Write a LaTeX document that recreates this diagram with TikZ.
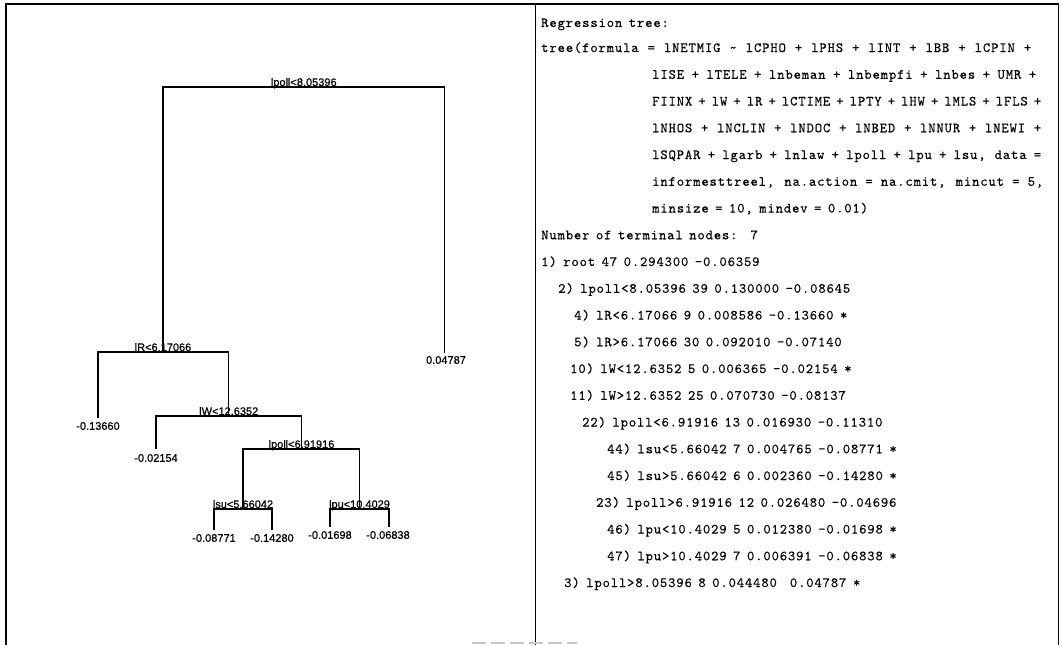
\documentclass[tikz,border=0pt]{standalone}
\usepackage{fontspec}
\setmainfont{Liberation Sans}
\newfontfamily\treef{Liberation Sans}[FakeBold=0.6]
\newfontfamily\monof{lmmono10-regular.otf}[LetterSpace=6, FakeBold=0.2]
\newcommand\jl[2]{\hbox to #1pt{\spaceskip=0.01pt plus 1fil\xspaceskip=0.01pt plus 1fil\relax #2}}
\newcommand\monotxt{\monof\fontsize{14}{16}\selectfont\spaceskip=6.5pt\relax}
\newcommand\treetxt{\treef\fontsize{11}{13}\selectfont}
\begin{document}
\begin{tikzpicture}[x=1pt, y=-1pt,
  frame/.style={line width=1.3pt, black},
  edge/.style={line width=1.2pt, line join=miter},
  split/.style={font=\treetxt, anchor=base, inner sep=0pt},
  leaf/.style={font=\treetxt, anchor=center, inner sep=0pt},
  mono/.style={font=\monotxt, anchor=base west, inner sep=0pt}]
\useasboundingbox (0,0) rectangle (1062,645);
\fill[white] (0,0) rectangle (1062,645);

% frame
\draw[frame] (6,645) -- (6,4) -- (1058.5,4) -- (1058.5,645);
\draw[frame] (535.5,4) -- (535.5,645);
\draw[gray!45, line width=2.5pt, dash pattern=on 14pt off 5pt] (472,643) -- (577,643);

% tree split points and leaf ends
\coordinate (root) at (303.75,87);
\coordinate (nR) at (163,352);
\coordinate (nW) at (228.75,416);
\coordinate (nP) at (301.5,449);
\coordinate (nSU) at (243,509);
\coordinate (nPU) at (359.5,509);
\coordinate (L3) at (444.5,353);
\coordinate (L4) at (98,418);
\coordinate (L10) at (156,449);
\coordinate (L44) at (214,530);
\coordinate (L45) at (272,530);
\coordinate (L46) at (330,527);
\coordinate (L47) at (389,527);

\draw[edge] (nR) |- (root) -| (L3);
\draw[edge] (L4) |- (nR) -| (nW);
\draw[edge] (L10) |- (nW) -| (nP);
\draw[edge] (nSU) |- (nP) -| (nPU);
\draw[edge, line width=1.6pt] (L44) |- (nSU) -| (L45);
\draw[edge, line width=1.6pt] (L46) |- (nPU) -| (L47);

\node[split] (sroot) at ([yshift=1pt]root) {lpoll<8.05396};
\node[split] (sR) at ([yshift=1pt]nR) {lR<6.17066};
\node[split] (sW) at ([yshift=1pt]nW) {lW<12.6352};
\node[split] (sP) at ([yshift=1pt]nP) {lpoll<6.91916};
\node[split] (sSU) at ([yshift=1pt]nSU) {lsu<5.66042};
\node[split] (sPU) at ([yshift=1pt]nPU) {lpu<10.4029};

\node[leaf] (v3) at (446,360) {0.04787};
\node[leaf] (v4) at (98,426) {-0.13660};
\node[leaf] (v10) at (156,458) {-0.02154};
\node[leaf] (v44) at (214,538) {-0.08771};
\node[leaf] (v45) at (272,538) {-0.14280};
\node[leaf] (v46) at (330,535) {-0.01698};
\node[leaf] (v47) at (388,535) {-0.06838};

% printed output
\node[mono] (t1) at (541,27) {Regression tree:};
\node[mono] (t2) at (541,52) {\jl{490}{tree(formula = lNETMIG \textasciitilde{} lCPHO + lPHS + lINT + lBB + lCPIN +}};
\node[mono] (t3) at (652,78.75) {\jl{384}{lISE + lTELE + lnbeman + lnbempfi + lnbes + UMR +}};
\node[mono] (t4) at (652,105.5) {\jl{389}{FIINX + lW + lR + lCTIME + lPTY + lHW + lMLS + lFLS +}};
\node[mono] (t5) at (652,132.25) {\jl{389}{lNHOS + lNCLIN + lNDOC + lNBED + lNNUR + lNEWI +}};
\node[mono] (t6) at (652,159) {\jl{389}{lSQPAR + lgarb + lnlaw + lpoll + lpu + lsu, data =}};
\node[mono] (t7) at (652,185.75) {\jl{391}{informesttreel, na.action = na.cmit, mincut = 5,}};
\node[mono] (t8) at (652,212.5) {minsize = 10, mindev = 0.01)};
\node[mono] (t9) at (541,239.25) {Number of terminal nodes:\ \ 7};
\node[mono] (t10) at (541,266) {1) root 47 0.294300 -0.06359};
\node[mono] (t11) at (558,292.75) {2) lpoll<8.05396 39 0.130000 -0.08645};
\node[mono] (t12) at (574,319.5) {4) lR<6.17066 9 0.008586 -0.13660 *};
\node[mono] (t13) at (574,346.25) {5) lR>6.17066 30 0.092010 -0.07140};
\node[mono] (t14) at (570,373) {10) lW<12.6352 5 0.006365 -0.02154 *};
\node[mono] (t15) at (570,399.75) {11) lW>12.6352 25 0.070730 -0.08137};
\node[mono] (t16) at (582,426.5) {22) lpoll<6.91916 13 0.016930 -0.11310};
\node[mono] (t17) at (607,453.25) {44) lsu<5.66042 7 0.004765 -0.08771 *};
\node[mono] (t18) at (607,480) {45) lsu>5.66042 6 0.002360 -0.14280 *};
\node[mono] (t19) at (596,506.75) {23) lpoll>6.91916 12 0.026480 -0.04696};
\node[mono] (t20) at (607,533.5) {46) lpu<10.4029 5 0.012380 -0.01698 *};
\node[mono] (t21) at (607,560.25) {47) lpu>10.4029 7 0.006391 -0.06838 *};
\node[mono] (t22) at (564,587) {3) lpoll>8.05396 8 0.044480\ \ 0.04787 *};
\end{tikzpicture}
\end{document}
